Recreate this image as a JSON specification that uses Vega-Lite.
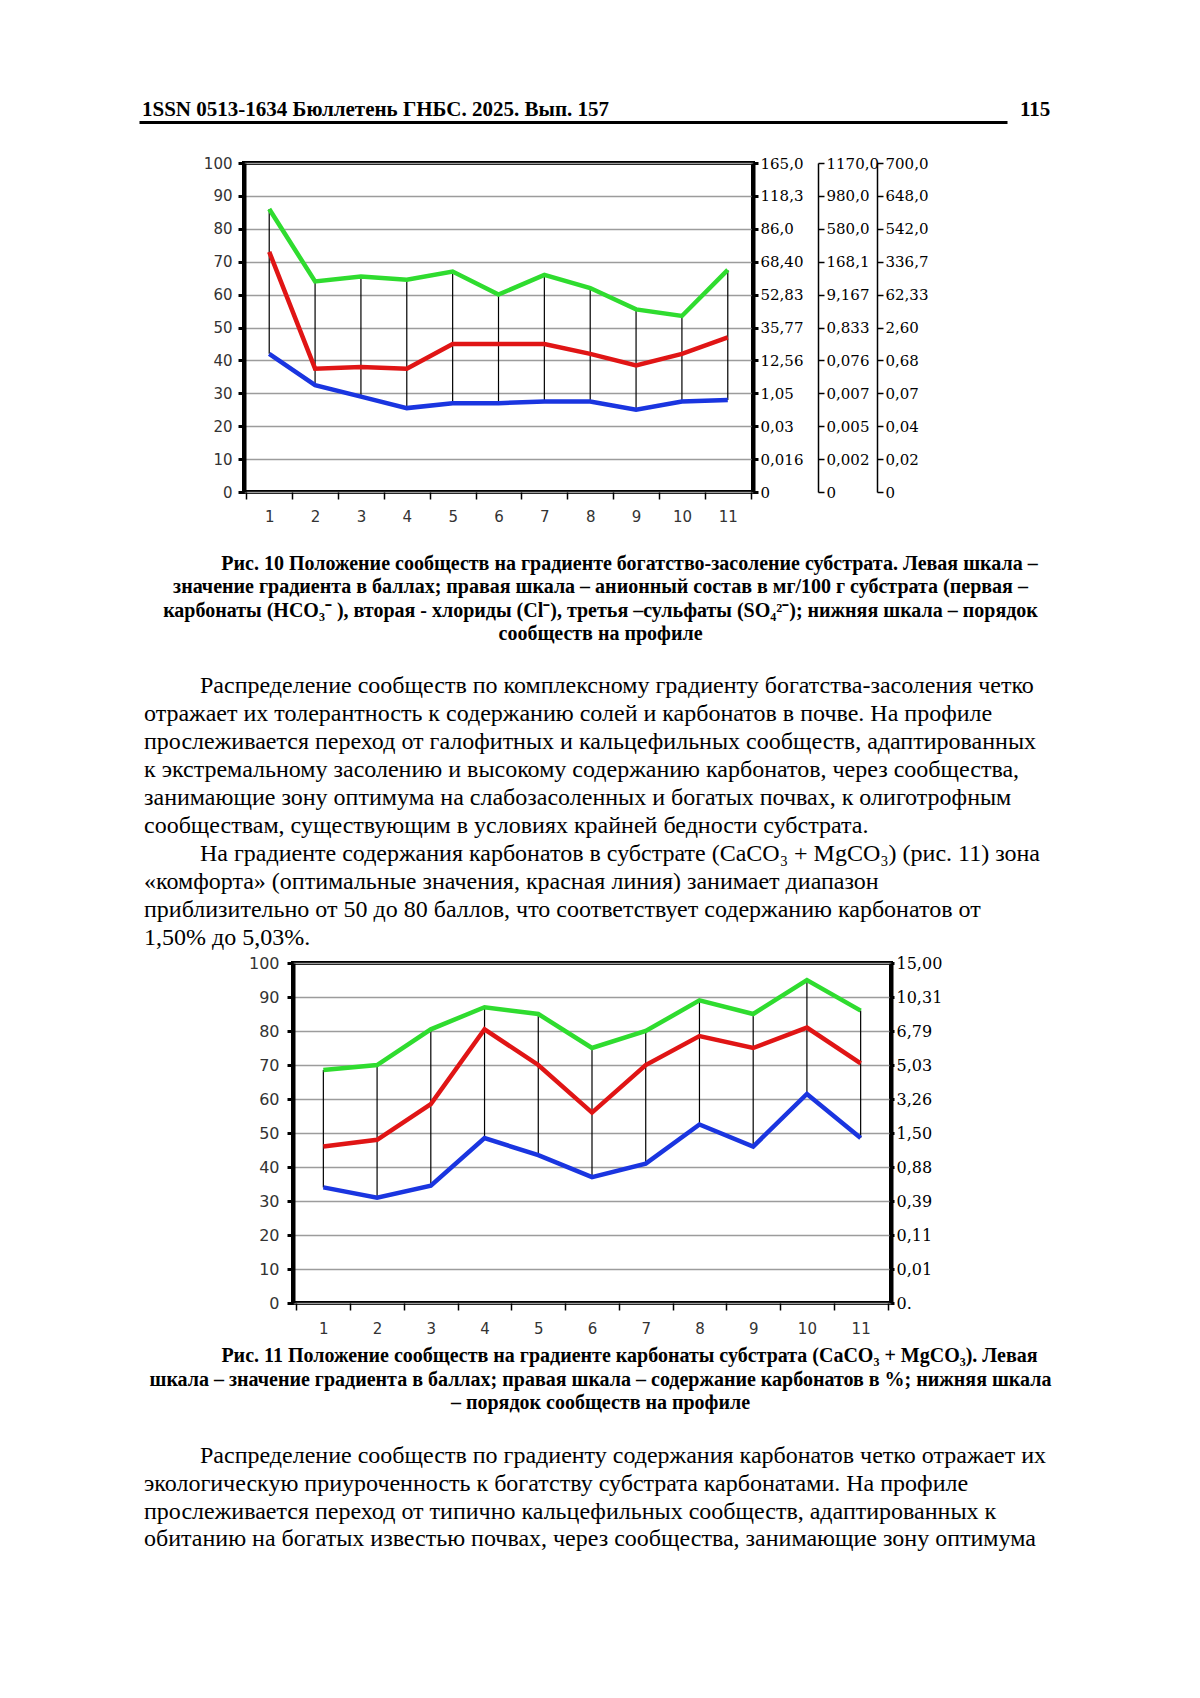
{
  "$schema": "https://vega.github.io/schema/vega-lite/v6.json",
  "background": "white",
  "padding": 0,
  "autosize": {"type": "pad"},
  "spacing": 0,
  "bounds": "full",
  "config": {"view": {"stroke": null}, "concat": {"spacing": 0}},
  "vconcat": [
    {"width": 10, "height": 97, "data": {"values": []}, "mark": "point"},
    {
      "hconcat": [
        {"width": 139, "height": 25, "data": {"values": []}, "mark": "point"},
        {
          "width": 868, "height": 25,
          "data": {"values": [{"line": 0, "text": "1SSN 0513-1634 Бюллетень ГНБС. 2025. Вып. 157"}]},
          "mark": {"type": "text", "align": "left", "baseline": "middle", "font": "Liberation Serif", "fontWeight": "bold", "fontSize": 21, "color": "black", "dx": 3},
          "encoding": {
            "x": {"datum": 0, "type": "quantitative", "scale": {"domain": [0, 1]}, "axis": {"orient": "bottom", "domain": true, "domainColor": "black", "domainWidth": 3, "ticks": false, "labels": false, "grid": false, "title": null}},
            "y": {"field": "line", "type": "ordinal", "scale": {"type": "point", "padding": 0.5}, "axis": null},
            "text": {"field": "text"}
          }
        },
        {"width": 13, "height": 25, "data": {"values": []}, "mark": "point"},
        {
          "width": 40, "height": 25,
          "data": {"values": [{"line": 0, "text": "115"}]},
          "mark": {"type": "text", "align": "left", "baseline": "middle", "font": "Liberation Serif", "fontWeight": "bold", "fontSize": 21, "color": "black"},
          "encoding": {
            "x": {"datum": 0, "type": "quantitative", "scale": {"domain": [0, 1]}, "axis": null},
            "y": {"field": "line", "type": "ordinal", "scale": {"type": "point", "padding": 0.5}, "axis": null},
            "text": {"field": "text"}
          }
        }
      ],
      "spacing": 0, "bounds": "flush"
    },
    {"width": 10, "height": 32, "data": {"values": []}, "mark": "point"},
    {
      "hconcat": [
        {"width": 244, "height": 329, "data": {"values": []}, "mark": "point"},
        {
          "width": 509, "height": 329,
          "view": {"stroke": "black", "strokeWidth": 4},
          "data": {"values": [
            {"n": 1, "g": 86, "r": 73, "b": 42},
            {"n": 2, "g": 64, "r": 37.5, "b": 32.5},
            {"n": 3, "g": 65.5, "r": 38, "b": 29},
            {"n": 4, "g": 64.5, "r": 37.5, "b": 25.5},
            {"n": 5, "g": 67, "r": 45, "b": 27},
            {"n": 6, "g": 60, "r": 45, "b": 27},
            {"n": 7, "g": 66, "r": 45, "b": 27.5},
            {"n": 8, "g": 62, "r": 42, "b": 27.5},
            {"n": 9, "g": 55.5, "r": 38.5, "b": 25},
            {"n": 10, "g": 53.5, "r": 42, "b": 27.5},
            {"n": 11, "g": 67.5, "r": 47, "b": 28}
          ]},
          "encoding": {
            "x": {"field": "n", "type": "ordinal", "scale": {"type": "band", "paddingInner": 0, "paddingOuter": 0.05},
                  "axis": {"orient": "bottom", "domain": false, "grid": false, "ticks": true, "tickBand": "extent", "tickColor": "black", "tickWidth": 1.5, "tickSize": 7, "labelFont": "DejaVu Sans", "labelFontSize": 15, "labelColor": "#333333", "labelPadding": 10, "labelAngle": 0, "title": null}}
          },
          "layer": [
            {"mark": {"type": "point", "opacity": 0},
             "encoding": {"y": {"field": "g", "type": "quantitative", "scale": {"domain": [0, 100]},
               "axis": {"orient": "left", "values": [0, 10, 20, 30, 40, 50, 60, 70, 80, 90, 100], "grid": true, "gridColor": "#9c9c9c", "gridWidth": 1.5, "domain": true, "domainColor": "black", "domainWidth": 4, "ticks": true, "tickColor": "black", "tickWidth": 3, "tickSize": 6, "labelFont": "DejaVu Sans", "labelFontSize": 15, "labelColor": "#333333", "labelPadding": 6, "labelFlush": false, "labelOverlap": false, "title": null}}}},
            {
              "layer": [
                {"mark": {"type": "rule", "color": "black", "strokeWidth": 1.2},
                 "encoding": {"y": {"field": "g", "type": "quantitative", "scale": {"domain": [0, 100]}, "axis": null}, "y2": {"field": "b"}}},
                {"mark": {"type": "line", "color": "#2fdc2f", "strokeWidth": 4.5},
                 "encoding": {"y": {"field": "g", "type": "quantitative", "scale": {"domain": [0, 100]}, "axis": null}}},
                {"mark": {"type": "line", "color": "#e01515", "strokeWidth": 4.5},
                 "encoding": {"y": {"field": "r", "type": "quantitative", "scale": {"domain": [0, 100]}, "axis": null}}},
                {"mark": {"type": "line", "color": "#1a35e0", "strokeWidth": 4.5},
                 "encoding": {"y": {"field": "b", "type": "quantitative", "scale": {"domain": [0, 100]}, "axis": null}}}
              ]
            },
            {"mark": {"type": "point", "opacity": 0},
             "encoding": {"y": {"field": "g", "type": "quantitative", "scale": {"domain": [0, 100]},
               "axis": {"orient": "right", "offset": 0, "values": [0, 10, 20, 30, 40, 50, 60, 70, 80, 90, 100], "labelExpr": "['0','0,016','0,03','1,05','12,56','35,77','52,83','68,40','86,0','118,3','165,0'][round(datum.value/10)]", "grid": false, "domain": true, "domainColor": "black", "domainWidth": 4, "ticks": true, "tickColor": "black", "tickWidth": 3, "tickSize": 5, "labelFont": "DejaVu Serif", "labelFontSize": 15, "labelColor": "black", "labelPadding": 2, "labelFlush": false, "labelOverlap": false, "title": null}}}},
            {"mark": {"type": "point", "opacity": 0},
             "encoding": {"y": {"field": "g", "type": "quantitative", "scale": {"domain": [0, 100]},
               "axis": {"orient": "right", "offset": 65, "values": [0, 10, 20, 30, 40, 50, 60, 70, 80, 90, 100], "labelExpr": "['0','0,002','0,005','0,007','0,076','0,833','9,167','168,1','580,0','980,0','1170,0'][round(datum.value/10)]", "grid": false, "domain": true, "domainColor": "black", "domainWidth": 1.5, "ticks": true, "tickColor": "black", "tickWidth": 1.5, "tickSize": 6, "labelFont": "DejaVu Serif", "labelFontSize": 15, "labelColor": "black", "labelPadding": 2, "labelFlush": false, "labelOverlap": false, "title": null}}}},
            {"mark": {"type": "point", "opacity": 0},
             "encoding": {"y": {"field": "g", "type": "quantitative", "scale": {"domain": [0, 100]},
               "axis": {"orient": "right", "offset": 124, "values": [0, 10, 20, 30, 40, 50, 60, 70, 80, 90, 100], "labelExpr": "['0','0,02','0,04','0,07','0,68','2,60','62,33','336,7','542,0','648,0','700,0'][round(datum.value/10)]", "grid": false, "domain": true, "domainColor": "black", "domainWidth": 1.5, "ticks": true, "tickColor": "black", "tickWidth": 1.5, "tickSize": 6, "labelFont": "DejaVu Serif", "labelFontSize": 15, "labelColor": "black", "labelPadding": 2, "labelFlush": false, "labelOverlap": false, "title": null}}}}
          ],
          "resolve": {"scale": {"y": "independent"}}
        }
      ],
      "spacing": 0, "bounds": "flush"
    },
    {"width": 10, "height": 25.25, "data": {"values": []}, "mark": "point"},
    {
      "hconcat": [
        {"width": 144, "height": 94, "data": {"values": []}, "mark": "point"},
        {
          "width": 913, "height": 94,
          "data": {"values": [
            {"line": 0, "text": "Рис. 10 Положение сообществ на градиенте богатство-засоление субстрата. Левая шкала –"},
            {"line": 1, "text": "значение градиента в баллах; правая шкала – анионный состав в мг/100 г субстрата (первая –"},
            {"line": 2, "text": "карбонаты (HCO₃⁻ ), вторая - хлориды (Cl⁻), третья –сульфаты (SO₄²⁻); нижняя шкала – порядок"},
            {"line": 3, "text": "сообществ на профиле"}
          ]},
          "encoding": {
            "x": {"datum": 0.5, "type": "quantitative", "scale": {"domain": [0, 1]}, "axis": null},
            "y": {"field": "line", "type": "ordinal", "scale": {"type": "point", "padding": 0.5}, "axis": null},
            "text": {"field": "text"}
          },
          "layer": [
            {"transform": [{"filter": "datum.line != 0"}],
             "mark": {"type": "text", "align": "center", "baseline": "middle", "font": "Liberation Serif", "fontWeight": "bold", "fontSize": 20, "color": "black"}},
            {"transform": [{"filter": "datum.line == 0"}],
             "mark": {"type": "text", "align": "center", "baseline": "middle", "font": "Liberation Serif", "fontWeight": "bold", "fontSize": 20, "color": "black", "dx": 29}}
          ]
        }
      ],
      "spacing": 0, "bounds": "flush"
    },
    {"width": 10, "height": 25.6, "data": {"values": []}, "mark": "point"},
    {
      "hconcat": [
        {"width": 144, "height": 280.5, "data": {"values": []}, "mark": "point"},
        {
          "width": 913, "height": 280.5,
          "data": {"values": [
            {"line": 0, "text": "Распределение сообществ по комплексному градиенту богатства-засоления четко"},
            {"line": 1, "text": "отражает их толерантность к содержанию солей и карбонатов в почве. На профиле"},
            {"line": 2, "text": "прослеживается переход от галофитных и кальцефильных сообществ, адаптированных"},
            {"line": 3, "text": "к экстремальному засолению и высокому содержанию карбонатов, через сообщества,"},
            {"line": 4, "text": "занимающие зону оптимума на слабозасоленных и богатых почвах, к олиготрофным"},
            {"line": 5, "text": "сообществам, существующим в условиях крайней бедности субстрата."},
            {"line": 6, "text": "На градиенте содержания карбонатов в субстрате (CaCO₃ + MgCO₃) (рис. 11) зона"},
            {"line": 7, "text": "«комфорта» (оптимальные значения, красная линия) занимает диапазон"},
            {"line": 8, "text": "приблизительно от 50 до 80 баллов, что соответствует содержанию карбонатов от"},
            {"line": 9, "text": "1,50% до 5,03%."}
          ]},
          "encoding": {
            "x": {"datum": 0, "type": "quantitative", "scale": {"domain": [0, 1]}, "axis": null},
            "y": {"field": "line", "type": "ordinal", "scale": {"type": "point", "padding": 0.5}, "axis": null},
            "text": {"field": "text"}
          },
          "layer": [
            {"transform": [{"filter": "datum.line != 0 && datum.line != 6"}],
             "mark": {"type": "text", "align": "left", "baseline": "middle", "font": "Liberation Serif", "fontSize": 24, "color": "black"}},
            {"transform": [{"filter": "datum.line == 0 || datum.line == 6"}],
             "mark": {"type": "text", "align": "left", "baseline": "middle", "font": "Liberation Serif", "fontSize": 24, "color": "black", "dx": 56}}
          ]
        }
      ],
      "spacing": 0, "bounds": "flush"
    },
    {
      "hconcat": [
        {"width": 293, "height": 340, "data": {"values": []}, "mark": "point"},
        {
          "width": 598, "height": 340,
          "view": {"stroke": "black", "strokeWidth": 4},
          "data": {"values": [
            {"n": 1, "g": 68.5, "r": 46, "b": 34},
            {"n": 2, "g": 70, "r": 48, "b": 31},
            {"n": 3, "g": 80.5, "r": 58.5, "b": 34.5},
            {"n": 4, "g": 87, "r": 80.5, "b": 48.5},
            {"n": 5, "g": 85, "r": 70, "b": 43.5},
            {"n": 6, "g": 75, "r": 56, "b": 37},
            {"n": 7, "g": 80, "r": 70, "b": 41},
            {"n": 8, "g": 89, "r": 78.5, "b": 52.5},
            {"n": 9, "g": 85, "r": 75, "b": 46},
            {"n": 10, "g": 95, "r": 81, "b": 61.5},
            {"n": 11, "g": 86, "r": 70.5, "b": 48.5}
          ]},
          "encoding": {
            "x": {"field": "n", "type": "ordinal", "scale": {"type": "band", "paddingInner": 0, "paddingOuter": 0.065},
                  "axis": {"orient": "bottom", "domain": false, "grid": false, "ticks": true, "tickBand": "extent", "tickColor": "black", "tickWidth": 1.5, "tickSize": 7, "labelFont": "DejaVu Sans", "labelFontSize": 15, "labelColor": "#333333", "labelPadding": 11, "labelAngle": 0, "title": null}}
          },
          "layer": [
            {"mark": {"type": "point", "opacity": 0},
             "encoding": {"y": {"field": "g", "type": "quantitative", "scale": {"domain": [0, 100]},
               "axis": {"orient": "left", "values": [0, 10, 20, 30, 40, 50, 60, 70, 80, 90, 100], "grid": true, "gridColor": "#9c9c9c", "gridWidth": 1.5, "domain": true, "domainColor": "black", "domainWidth": 4, "ticks": true, "tickColor": "black", "tickWidth": 3, "tickSize": 6, "labelFont": "DejaVu Sans", "labelFontSize": 16, "labelColor": "#333333", "labelPadding": 8, "labelFlush": false, "labelOverlap": false, "title": null}}}},
            {
              "layer": [
                {"mark": {"type": "rule", "color": "black", "strokeWidth": 1.2},
                 "encoding": {"y": {"field": "g", "type": "quantitative", "scale": {"domain": [0, 100]}, "axis": null}, "y2": {"field": "b"}}},
                {"mark": {"type": "line", "color": "#2fdc2f", "strokeWidth": 4.5},
                 "encoding": {"y": {"field": "g", "type": "quantitative", "scale": {"domain": [0, 100]}, "axis": null}}},
                {"mark": {"type": "line", "color": "#e01515", "strokeWidth": 4.5},
                 "encoding": {"y": {"field": "r", "type": "quantitative", "scale": {"domain": [0, 100]}, "axis": null}}},
                {"mark": {"type": "line", "color": "#1a35e0", "strokeWidth": 4.5},
                 "encoding": {"y": {"field": "b", "type": "quantitative", "scale": {"domain": [0, 100]}, "axis": null}}}
              ]
            },
            {"mark": {"type": "point", "opacity": 0},
             "encoding": {"y": {"field": "g", "type": "quantitative", "scale": {"domain": [0, 100]},
               "axis": {"orient": "right", "offset": 0, "values": [0, 10, 20, 30, 40, 50, 60, 70, 80, 90, 100], "labelExpr": "['0.','0,01','0,11','0,39','0,88','1,50','3,26','5,03','6,79','10,31','15,00'][round(datum.value/10)]", "grid": false, "domain": true, "domainColor": "black", "domainWidth": 4, "ticks": true, "tickColor": "black", "tickWidth": 3, "tickSize": 3, "labelFont": "DejaVu Serif", "labelFontSize": 16, "labelColor": "black", "labelPadding": 2, "labelFlush": false, "labelOverlap": false, "title": null}}}}
          ],
          "resolve": {"scale": {"y": "independent"}}
        }
      ],
      "spacing": 0, "bounds": "flush"
    },
    {"width": 10, "height": 5.6, "data": {"values": []}, "mark": "point"},
    {
      "hconcat": [
        {"width": 144, "height": 71.25, "data": {"values": []}, "mark": "point"},
        {
          "width": 913, "height": 71.25,
          "data": {"values": [
            {"line": 0, "text": "Рис. 11 Положение сообществ на градиенте карбонаты субстрата (CaCO₃ + MgCO₃). Левая"},
            {"line": 1, "text": "шкала – значение градиента в баллах; правая шкала – содержание карбонатов в %; нижняя шкала"},
            {"line": 2, "text": "– порядок сообществ на профиле"}
          ]},
          "encoding": {
            "x": {"datum": 0.5, "type": "quantitative", "scale": {"domain": [0, 1]}, "axis": null},
            "y": {"field": "line", "type": "ordinal", "scale": {"type": "point", "padding": 0.5}, "axis": null},
            "text": {"field": "text"}
          },
          "layer": [
            {"transform": [{"filter": "datum.line != 0"}],
             "mark": {"type": "text", "align": "center", "baseline": "middle", "font": "Liberation Serif", "fontWeight": "bold", "fontSize": 20, "color": "black"}},
            {"transform": [{"filter": "datum.line == 0"}],
             "mark": {"type": "text", "align": "center", "baseline": "middle", "font": "Liberation Serif", "fontWeight": "bold", "fontSize": 20, "color": "black", "dx": 29}}
          ]
        }
      ],
      "spacing": 0, "bounds": "flush"
    },
    {"width": 10, "height": 25.6, "data": {"values": []}, "mark": "point"},
    {
      "hconcat": [
        {"width": 144, "height": 111.2, "data": {"values": []}, "mark": "point"},
        {
          "width": 913, "height": 111.2,
          "data": {"values": [
            {"line": 0, "text": "Распределение сообществ по градиенту содержания карбонатов четко отражает их"},
            {"line": 1, "text": "экологическую приуроченность к богатству субстрата карбонатами. На профиле"},
            {"line": 2, "text": "прослеживается переход от типично кальцефильных сообществ, адаптированных к"},
            {"line": 3, "text": "обитанию на богатых известью почвах, через сообщества, занимающие зону оптимума"}
          ]},
          "encoding": {
            "x": {"datum": 0, "type": "quantitative", "scale": {"domain": [0, 1]}, "axis": null},
            "y": {"field": "line", "type": "ordinal", "scale": {"type": "point", "padding": 0.5}, "axis": null},
            "text": {"field": "text"}
          },
          "layer": [
            {"transform": [{"filter": "datum.line != 0"}],
             "mark": {"type": "text", "align": "left", "baseline": "middle", "font": "Liberation Serif", "fontSize": 24, "color": "black"}},
            {"transform": [{"filter": "datum.line == 0"}],
             "mark": {"type": "text", "align": "left", "baseline": "middle", "font": "Liberation Serif", "fontSize": 24, "color": "black", "dx": 56}}
          ]
        }
      ],
      "spacing": 0, "bounds": "flush"
    }
  ]
}
